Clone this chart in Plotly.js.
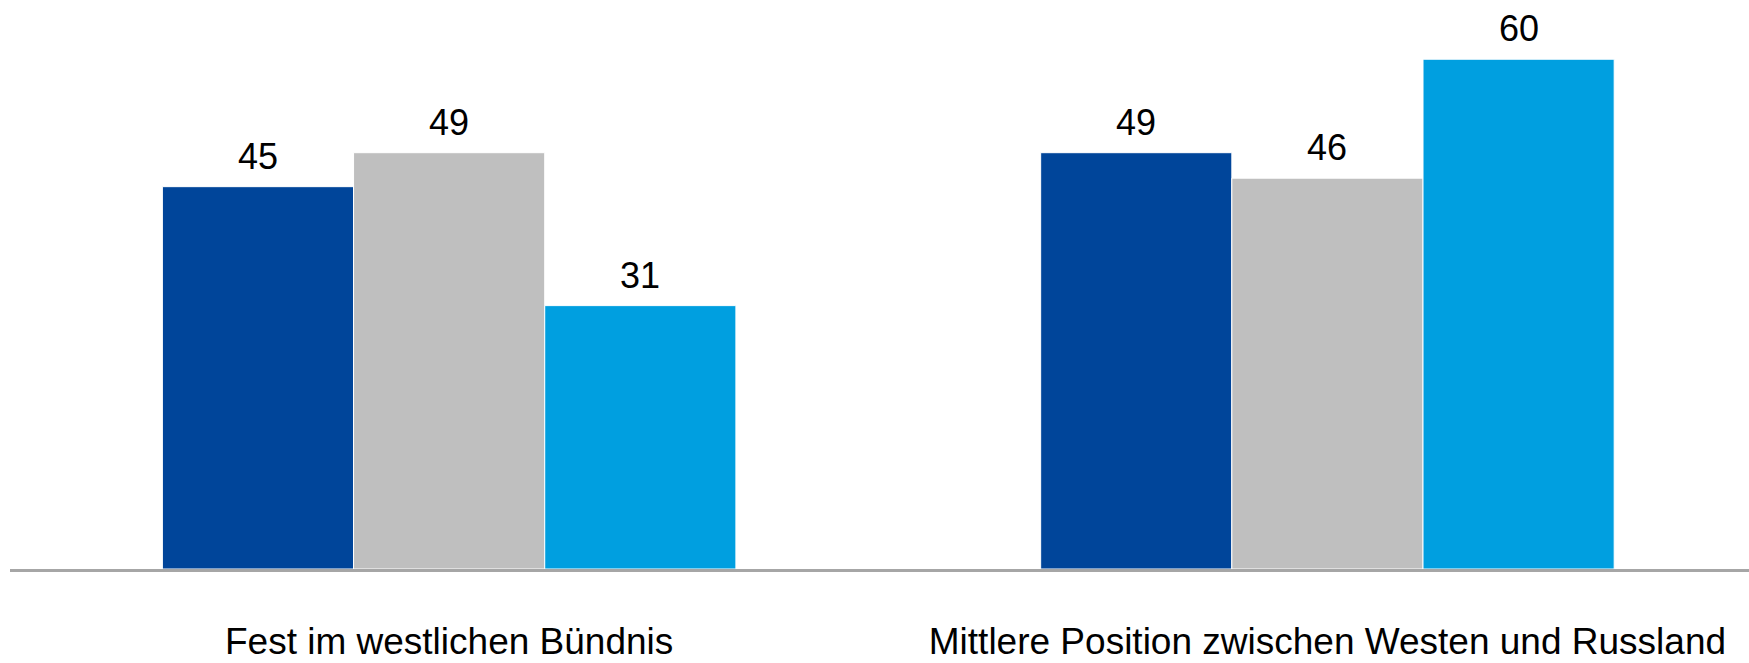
<!DOCTYPE html>
<html>
<head>
<meta charset="utf-8">
<script src="https://cdn.plot.ly/plotly-3.0.1.min.js"></script>
<style>html,body{margin:0;padding:0;background:#fff;}#chart{width:1749px;height:663px;}</style>
</head>
<body>
<div id="chart"></div>
<script>
const categories = ["Fest im westlichen Bündnis", "Mittlere Position zwischen Westen und Russland"];
const seriesA = [45, 49];
const seriesB = [49, 46];
const seriesC = [31, 60];
const seriesNames = ["A", "B", "C"];
const seriesColors = ["#00459a", "#bfbfbf", "#009fe0"];
const seriesValues = [seriesA, seriesB, seriesC];

const FONT = "Liberation Sans, Arial, sans-serif";
const BARGAP = 0.347;

const traces = seriesValues.map((vals, i) => ({
  type: "bar",
  name: seriesNames[i],
  x: categories,
  y: vals,
  marker: {color: seriesColors[i], line: {color: "#ffffff", width: 1}},
  hoverinfo: "skip"
}));

// value labels placed over each bar of the group
const nSeries = seriesValues.length;
const slot = (1 - BARGAP) / nSeries;
const annotations = [];
seriesValues.forEach((vals, i) => {
  vals.forEach((v, c) => {
    annotations.push({
      xref: "x", yref: "y",
      x: c + (i - (nSeries - 1) / 2) * slot,
      y: v,
      text: String(v),
      showarrow: false,
      xanchor: "center",
      yanchor: "bottom",
      yshift: 8,
      font: {family: FONT, size: 36, color: "#000"}
    });
  });
});

const layout = {
  width: 1749,
  height: 663,
  margin: {l: 10, r: 0, t: 30, b: 94},
  paper_bgcolor: "#fff",
  plot_bgcolor: "#fff",
  barmode: "group",
  bargap: BARGAP,
  bargroupgap: 0,
  showlegend: false,
  font: {family: FONT, color: "#000"},
  annotations: annotations,
  xaxis: {
    type: "category",
    range: [-0.5, 1.48],
    showline: true,
    linecolor: "#a6a6a6",
    linewidth: 3,
    ticks: "outside",
    ticklen: 38,
    tickcolor: "rgba(0,0,0,0)",
    tickfont: {family: FONT, size: 37, color: "#000"},
    showgrid: false,
    zeroline: false,
    fixedrange: true
  },
  yaxis: {
    range: [0, 63.44],
    visible: false,
    showgrid: false,
    zeroline: false,
    fixedrange: true
  }
};

Plotly.newPlot("chart", traces, layout, {displayModeBar: false, staticPlot: true});
</script>
</body>
</html>
